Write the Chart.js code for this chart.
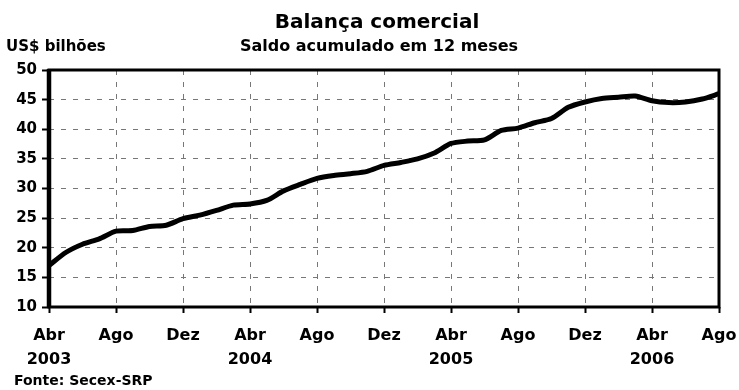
<!DOCTYPE html>
<html lang="pt-BR">
<head>
<meta charset="utf-8">
<title>Balança comercial</title>
<script src="https://cdn.jsdelivr.net/npm/chart.js@4/dist/chart.umd.min.js"></script>
<style>
  html, body { margin: 0; padding: 0; background: #fff; }
  #wrap { width: 739px; height: 390px; }
</style>
</head>
<body>
<div id="wrap"><canvas id="c" width="739" height="390"></canvas></div>
<script>
// Saldo da balança comercial acumulado em 12 meses (US$ bilhões), Abr/2003 a Ago/2006
const months = ['Abr','Mai','Jun','Jul','Ago','Set','Out','Nov','Dez','Jan','Fev','Mar',
                'Abr','Mai','Jun','Jul','Ago','Set','Out','Nov','Dez','Jan','Fev','Mar',
                'Abr','Mai','Jun','Jul','Ago','Set','Out','Nov','Dez','Jan','Fev','Mar',
                'Abr','Mai','Jun','Jul','Ago'];
const years = [2003,2003,2003,2003,2003,2003,2003,2003,2003,2004,2004,2004,
               2004,2004,2004,2004,2004,2004,2004,2004,2004,2005,2005,2005,
               2005,2005,2005,2005,2005,2005,2005,2005,2005,2006,2006,2006,
               2006,2006,2006,2006,2006];
const saldo = [17.0, 19.2, 20.6, 21.5, 22.8, 22.9, 23.6, 23.8, 24.9, 25.5, 26.3, 27.2,
               27.4, 28.0, 29.6, 30.7, 31.7, 32.2, 32.5, 32.9, 33.9, 34.4, 35.0, 36.0,
               37.6, 38.0, 38.2, 39.8, 40.2, 41.1, 41.8, 43.7, 44.6, 45.2, 45.4, 45.6,
               44.8, 44.5, 44.6, 45.1, 46.0];
const yTicks = { min: 10, max: 50, step: 5 };
const tickEvery = 4;

const titleText = 'Balança comercial';
const subtitleText = 'Saldo acumulado em 12 meses';
const unitText = 'US$ bilhões';
const sourceText = 'Fonte: Secex-SRP';

const FONT = '"DejaVu Sans", "Liberation Sans", sans-serif';
const labels = months.map((m, i) => m + ' ' + years[i]);

// Títulos, unidade, fonte e moldura da área do gráfico
const decor = {
  id: 'decor',
  afterDatasetsDraw(chart) {
    const { ctx, chartArea: a } = chart;
    ctx.save();
    ctx.strokeStyle = '#000';
    ctx.lineWidth = 3;
    ctx.strokeRect(a.left, a.top, a.right - a.left, a.bottom - a.top);
    ctx.lineWidth = 4.5;
    ctx.beginPath();
    ctx.moveTo(a.left, a.top - 1);
    ctx.lineTo(a.left, a.bottom + 1);
    ctx.stroke();
    ctx.restore();
  },
  afterDraw(chart) {
    const { ctx, chartArea: a } = chart;
    const cx = (a.left + a.right) / 2 - 7;
    ctx.save();
    ctx.fillStyle = '#000';
    ctx.textBaseline = 'alphabetic';
    ctx.textAlign = 'center';
    ctx.font = 'bold 20px ' + FONT;
    ctx.fillText(titleText, cx, 28);
    ctx.font = 'bold 16px ' + FONT;
    ctx.fillText(subtitleText, cx + 2, 51);
    ctx.textAlign = 'left';
    ctx.font = 'bold 15px ' + FONT;
    ctx.fillText(unitText, 6, 51);
    ctx.font = 'bold 14px ' + FONT;
    ctx.fillText(sourceText, 14, 385);
    ctx.restore();
  }
};

new Chart(document.getElementById('c'), {
  type: 'line',
  data: {
    labels: labels,
    datasets: [{
      data: saldo,
      borderColor: '#000',
      borderWidth: 5,
      pointRadius: 0,
      tension: 0.25,
      fill: false
    }]
  },
  options: {
    responsive: false,
    animation: false,
    devicePixelRatio: 1,
    layout: { padding: { top: 70, right: 20, left: 0, bottom: 0 } },
    plugins: { legend: { display: false }, tooltip: { enabled: false }, title: { display: false } },
    scales: {
      x: {
        type: 'category',
        offset: false,
        border: { display: false, dash: [5, 7] },
        grid: {
          drawOnChartArea: true,
          color: (c) => (c.index % tickEvery === 0 ? '#777' : 'rgba(0,0,0,0)'),
          lineWidth: 1,
          tickColor: (c) => (c.index % tickEvery === 0 ? '#000' : 'rgba(0,0,0,0)'),
          tickWidth: 2,
          tickLength: 6,
          tickBorderDash: []
        },
        ticks: {
          autoSkip: false,
          maxRotation: 0,
          minRotation: 0,
          padding: 11,
          color: '#000',
          font: { family: FONT, size: 16, weight: 'bold', lineHeight: 1.5 },
          callback: (v, i) => {
            if (i % tickEvery !== 0) return '';
            return months[i] === 'Abr' ? [months[i], String(years[i])] : months[i];
          }
        },
        afterFit: (s) => { s.height = 83; s.paddingLeft = 0; s.paddingRight = 0; }
      },
      y: {
        min: yTicks.min,
        max: yTicks.max,
        border: { display: false, dash: [5, 7] },
        grid: {
          color: '#777',
          lineWidth: 1,
          tickColor: '#000',
          tickWidth: 2,
          tickLength: 7,
          tickBorderDash: []
        },
        ticks: {
          stepSize: yTicks.step,
          padding: 5,
          color: '#000',
          font: { family: FONT, size: 15, weight: 'bold' }
        },
        afterFit: (s) => { s.width = 49; }
      }
    }
  },
  plugins: [decor]
});
</script>
</body>
</html>
